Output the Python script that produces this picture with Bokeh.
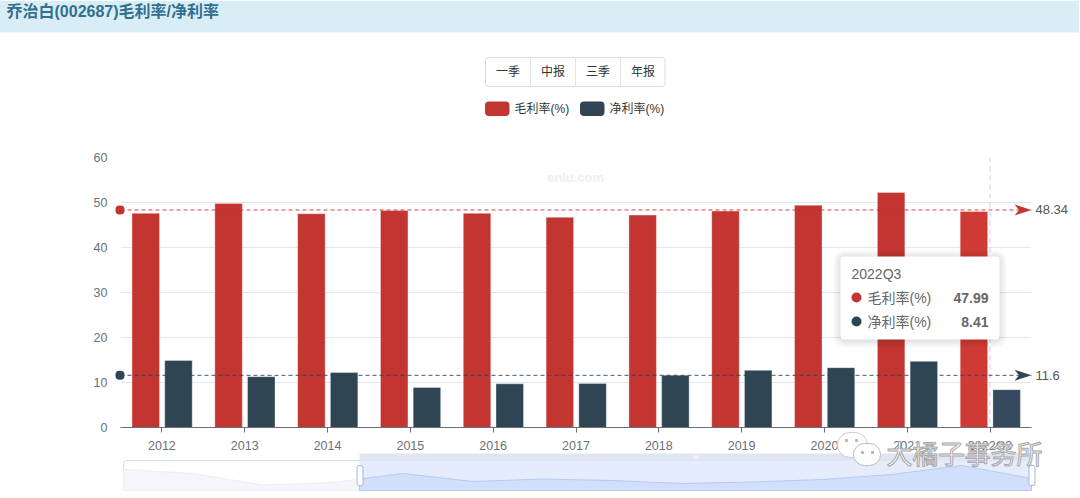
from bokeh.plotting import figure
from bokeh.models import (ColumnDataSource, Range1d, FactorRange, Span, Label, BoxAnnotation,
                          PolyAnnotation)
from bokeh.transform import dodge
from bokeh.embed import file_html
from bokeh.resources import INLINE
import numpy as np

title = "乔治白(002687)毛利率/净利率"
periods = ["2012", "2013", "2014", "2015", "2016", "2017", "2018", "2019", "2020", "2021", "2022Q3"]
gross_margin = [47.6, 49.8, 47.5, 48.2, 47.6, 46.7, 47.2, 48.1, 49.4, 52.2, 47.99]
net_margin = [14.9, 11.3, 12.2, 8.9, 9.7, 9.8, 11.6, 12.7, 13.3, 14.7, 8.41]
gross_avg = 48.34
net_avg = 11.6
y_ticks = [0, 10, 20, 30, 40, 50, 60]
buttons = ["一季", "中报", "三季", "年报"]
legend_names = ["毛利率(%)", "净利率(%)"]
overview_levels = [21, 17, 5.5, 8, 17, 9, 11.5, 10, 7, 8.5, 11, 16, 25, 12]

RED, NAVY = "#c23531", "#2f4554"
CJK = "'Liberation Sans','Noto Sans CJK SC',sans-serif"

L, R, T, B = 120, 1031, 157, 427
W, H = 1080, 498

p = figure(width=W, height=H, output_backend="svg", toolbar_location=None,
           x_range=FactorRange(factors=periods, range_padding=0),
           y_range=Range1d(0, 60),
           min_border_left=L, min_border_right=W - R,
           min_border_top=T, min_border_bottom=H - B)
p.outline_line_color = None
p.background_fill_color = "white"
p.border_fill_color = "white"
p.xgrid.grid_line_color = None
p.ygrid.grid_line_color = "#e0e6f1"
p.yaxis.ticker = y_ticks
p.yaxis.axis_line_color = None
p.yaxis.major_tick_line_color = None
p.yaxis.minor_tick_line_color = None
p.yaxis.major_label_standoff = 7
p.xaxis.axis_line_color = "#6e7079"
p.xaxis.major_tick_line_color = "#6e7079"
p.xaxis.major_tick_in = 0
p.xaxis.major_tick_out = 5
p.xaxis.major_label_standoff = 6
p.xaxis.minor_tick_line_color = None
p.xaxis.separator_line_color = None
for ax in (p.xaxis, p.yaxis):
    ax.major_label_text_color = "#6e7079"
    ax.major_label_text_font = "Liberation Sans"
    ax.major_label_text_font_size = "12.5px"

source = ColumnDataSource(dict(period=periods, gross=gross_margin, net=net_margin,
                               gc=[RED] * 10 + ["#d03a35"], nc=[NAVY] * 10 + ["#34495e"]))
p.vbar(x=dodge("period", -0.195, range=p.x_range), top="gross", width=0.332, bottom=0, source=source,
       fill_color="gc", line_color="#ffffff", line_alpha=0.35)
p.vbar(x=dodge("period", 0.2, range=p.x_range), top="net", width=0.332, bottom=0, source=source,
       fill_color="nc", line_color="#ffffff", line_alpha=0.35)

p.add_layout(Span(location=periods.index("2022Q3") + 0.5, dimension="height",
                  line_color="#c9cfe0", line_dash="5 4", line_width=1))
for v, c in ((gross_avg, RED), (net_avg, NAVY)):
    p.add_layout(Span(location=v, dimension="width", line_color=c, line_dash="4 3", line_width=1, line_alpha=0.9))

# Transparent full-canvas layer on top of the chart: page furniture, tooltip, data zoom.
ov = figure(width=W, height=H, output_backend="svg", toolbar_location=None,
            x_axis_location=None, y_axis_location=None, min_border=0,
            x_range=Range1d(0, W), y_range=Range1d(H, 0))
ov.outline_line_color = None
ov.grid.grid_line_color = None
ov.background_fill_alpha = 0
ov.border_fill_alpha = 0
ov.styles = {"position": "absolute", "left": "-1px", "top": "0px"}


def box(l, t, r, b, fill=None, radius=0, line=None, alpha=1.0, lw=1):
    a = BoxAnnotation(left=l, right=r, top=t, bottom=b,
                      left_units="canvas", right_units="canvas", top_units="canvas", bottom_units="canvas",
                      fill_color=fill, fill_alpha=alpha if fill else 0,
                      line_color=line, line_alpha=1 if line else 0, line_width=lw,
                      border_radius=radius, editable=False)
    ov.add_layout(a)


def poly(xs, ys, fill=None, line=None, alpha=1.0):
    a = PolyAnnotation(xs=[float(x) for x in xs], ys=[float(y) for y in ys],
                       xs_units="canvas", ys_units="canvas",
                       fill_color=fill, fill_alpha=alpha if fill else 0,
                       line_color=line, line_alpha=1 if line else 0, line_width=1)
    ov.add_layout(a)


def text(x, y, s, size=12, color="#333333", align="left", style="normal", font=CJK, **kw):
    ov.add_layout(Label(x=x, y=y, x_units="canvas", y_units="canvas", text=s,
                        text_font=font, text_font_size=f"{size}px", text_color=color,
                        text_align=align, text_baseline="middle", text_font_style=style, **kw))


def y_px(v):
    return B - (B - T) * v / 60


# header band
box(0, 0, 1081, 32, fill="#d9edf7")
text(7, 11, title, size=16, color="#31708f", style="bold")

# period buttons
box(486, 57, 665.5, 86, fill="white", line="#dddddd", radius=3)
for i, b in enumerate(buttons):
    if i:
        box(486 + 45 * i, 57, 486 + 45 * i, 86, line="#e4e4e4")
    text(508.5 + 45 * i, 71.5, b, size=12, color="#333333", align="center")

# legend
box(485.5, 101, 510, 115.5, fill=RED, radius=4)
text(515, 108, legend_names[0], size=12, color="#333333")
box(580.5, 101, 605, 115.5, fill=NAVY, radius=4)
text(610, 108, legend_names[1], size=12, color="#333333")

text(576, 177, "eniu.com", size=13, color="#eeeeee", align="center", style="bold")

# average-line end marks
for v, c, lab in ((gross_avg, RED, "48.34"), (net_avg, NAVY, "11.6")):
    y = y_px(v)
    box(116, y - 4.5, 125, y + 4.5, fill=c, radius=4)
    poly([1032, 1015, 1019.5, 1015], [y, y - 5.5, y, y + 5.5], fill=c)
    text(1036, y, lab, size=13, color="#555555")

# tooltip with soft shadow
tl, tt, tr, tb = 841, 256, 1000, 339
for s in (7, 5, 3, 1):
    box(tl - s, tt - s + 1, tr + s, tb + s + 1, fill="#000000", alpha=0.028, radius=4 + s)
box(tl, tt, tr, tb, fill="white", radius=4)
text(852, 273.5, periods[-1], size=14, color="#666666")
box(852, 292, 862, 302, fill=RED, radius=5)
text(868, 297, legend_names[0], size=14, color="#666666")
text(989, 297, f"{gross_margin[-1]:.2f}", size=14, color="#666666", align="right", style="bold")
box(852, 316, 862, 326, fill=NAVY, radius=5)
text(868, 321, legend_names[1], size=14, color="#666666")
text(989, 321, f"{net_margin[-1]:.2f}", size=14, color="#666666", align="right", style="bold")

# data zoom overview
sl, sr, st, sb, sel = 124, 1032, 460, 490, 360
ov_x = np.linspace(sl, sr, len(overview_levels))
ov_y = sb - np.array(overview_levels, dtype=float)
box(sl, st, sr, sb, fill="white", line="#d2dbee", radius=3)
sel_y = float(np.interp(sel, ov_x, ov_y))
lx = [x for x in ov_x if x < sel]
ly = [y for x, y in zip(ov_x, ov_y) if x < sel]
rx = [x for x in ov_x if x > sel]
ry = [y for x, y in zip(ov_x, ov_y) if x > sel]
poly([sl] + lx + [sel, sel, sl], [sb] + ly + [sel_y, sb, sb], fill="#f5f6fc", line="#eceff9")
box(sel, st, sr, sb, fill="#e5edfd")
box(sel, 453, sr, st, fill="#dfe6f2")
poly([sel] + rx + [sr, sel], [sel_y] + ry + [sb, sb], fill="#d2dffa", line="#b4c9f6")
for dx in (-2, 0, 2):
    box(696 + dx, 455, 696 + dx + 1, 458, fill="white")
box(357.5, 465, 363.5, 485, fill="white", line="#aab7d4", radius=2)
box(1029.5, 465, 1035.5, 485, fill="white", line="#aab7d4", radius=2)

# photo watermark
box(838, 432, 868, 457, fill="white", line="#cfcfcf", radius=13, alpha=0.85)
box(854, 443, 881, 465, fill="white", line="#bdbdbd", radius=11, alpha=0.9)
for cx, cy in ((847, 440), (857, 440), (863, 452), (873, 452)):
    box(cx - 1.5, cy - 1.5, cx + 1.5, cy + 1.5, fill="#b5b5b5", radius=1)
text(887, 452, "大橘子事务所", size=26, color="#f8f8f8", font="'Noto Sans CJK SC'",
     text_outline_color="#a8a8a8")

open("out.html", "w").write(file_html([p, ov], INLINE))
